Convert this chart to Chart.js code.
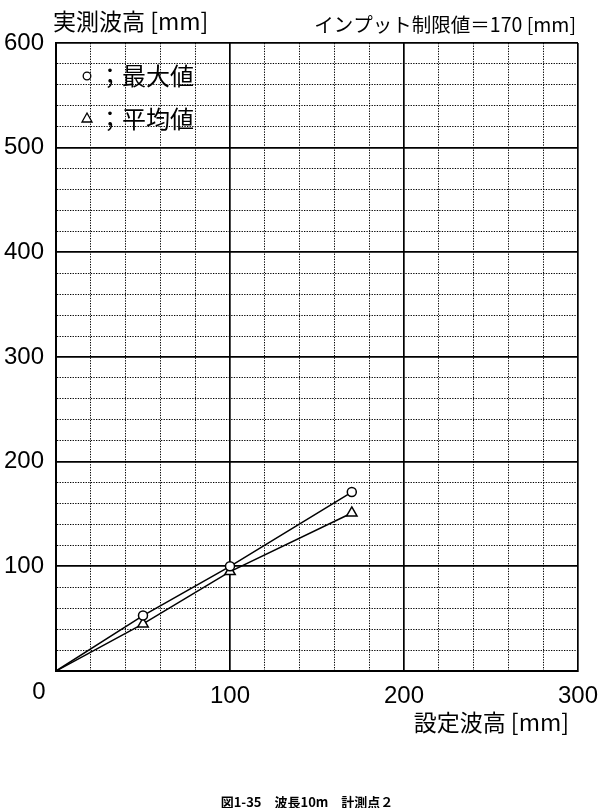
<!DOCTYPE html>
<html>
<head>
<meta charset="utf-8">
<script src="https://cdn.jsdelivr.net/npm/chart.js@4.4.1/dist/chart.umd.min.js"></script>
<style>
  html, body { margin: 0; padding: 0; background: #fff; }
  #wrap { width: 600px; height: 808px; position: relative; }
</style>
</head>
<body>
<div id="wrap"><canvas id="chart"></canvas></div>
<script>
// --- data ---
const settingHeights = [0, 50, 100, 170];     // 設定波高 [mm]
const maxValues      = [0, 53, 100, 171];     // 最大値
const meanValues     = [0, 45, 95, 151];      // 平均値

const FONT = '"Liberation Sans", "Noto Sans CJK JP", sans-serif';
const JP = '"Noto Sans CJK JP", "Liberation Sans", sans-serif';

const isMajor = c => c.tick && c.tick.value % 100 === 0;

function points(ys) {
  return settingHeights.map((x, i) => ({ x, y: ys[i] }));
}

// titles, legend, origin label and caption
const annotations = {
  id: 'annotations',
  afterDraw(chart) {
    const { ctx, scales: { x } } = chart;
    ctx.save();
    ctx.fillStyle = '#000';
    ctx.strokeStyle = '#000';
    ctx.textBaseline = 'middle';

    ctx.font = '23px ' + JP;
    ctx.textAlign = 'left';
    ctx.fillText('実測波高 [mm]', 53, 21);

    ctx.font = '19.5px ' + JP;
    ctx.textAlign = 'right';
    ctx.fillText('インプット制限値＝170 [mm]', 576, 25);

    ctx.font = '23px ' + JP;
    ctx.fillText('設定波高 [mm]', 569, 722);

    // origin "0" shared by both axes
    ctx.font = '24px ' + FONT;
    ctx.textAlign = 'center';
    ctx.fillText('0', x.getPixelForValue(0) - 17, 692);

    // legend inside the plot
    ctx.lineWidth = 1.3;
    ctx.beginPath();
    ctx.arc(87, 76, 3.8, 0, Math.PI * 2);
    ctx.stroke();
    ctx.beginPath();
    ctx.moveTo(87, 113);
    ctx.lineTo(92, 122);
    ctx.lineTo(82, 122);
    ctx.closePath();
    ctx.stroke();
    ctx.font = '24px ' + JP;
    ctx.textAlign = 'left';
    ctx.fillText('；最大値', 98, 76);
    ctx.fillText('；平均値', 98, 119);

    // caption
    ctx.font = 'bold 13px ' + JP;
    ctx.textAlign = 'center';
    ctx.fillText('図1-35　波長10m　計測点２', 307, 802);
    ctx.restore();
  }
};

const axis = (max, hideZero) => ({
  type: 'linear',
  min: 0,
  max,
  grid: {
    color: '#000',
    lineWidth: c => isMajor(c) ? 1.7 : 1,
    drawTicks: false,
  },
  border: {
    color: '#000',
    width: 2,
    dash: c => isMajor(c) ? [] : [1.3, 1.3],
  },
  ticks: {
    stepSize: 20,
    autoSkip: false,
    maxRotation: 0,
    color: '#000',
    font: { family: FONT, size: 24 },
    callback: v => (v % 100 === 0 && !(hideZero && v === 0)) ? String(v) : '',
  },
});

const xAxis = axis(300, true);
xAxis.ticks.padding = 11;
xAxis.afterFit = s => { s.height = 137; s.paddingLeft = 0; s.paddingRight = 0; };

const yAxis = axis(600, true);
yAxis.ticks.padding = 12;
yAxis.afterFit = s => { s.width = 56; s.paddingTop = 0; s.paddingBottom = 0; };

new Chart(document.getElementById('chart'), {
  type: 'scatter',
  data: {
    datasets: [
      {
        label: '最大値',
        data: points(maxValues),
        showLine: true,
        borderColor: '#000',
        borderWidth: 1.5,
        pointStyle: 'circle',
        pointRadius: [0, 4.5, 4.5, 4.5],
        pointBackgroundColor: '#fff',
        pointBorderColor: '#000',
        pointBorderWidth: 1.5,
      },
      {
        label: '平均値',
        data: points(meanValues),
        showLine: true,
        borderColor: '#000',
        borderWidth: 1.5,
        pointStyle: 'triangle',
        pointRadius: [0, 6, 6, 6],
        pointBackgroundColor: '#fff',
        pointBorderColor: '#000',
        pointBorderWidth: 1.5,
      },
    ],
  },
  options: {
    responsive: true,
    maintainAspectRatio: false,
    animation: false,
    layout: { padding: { top: 43, right: 22, left: 0, bottom: 0 } },
    plugins: { legend: { display: false }, tooltip: { enabled: false } },
    scales: { x: xAxis, y: yAxis },
  },
  plugins: [annotations],
});
</script>
</body>
</html>
